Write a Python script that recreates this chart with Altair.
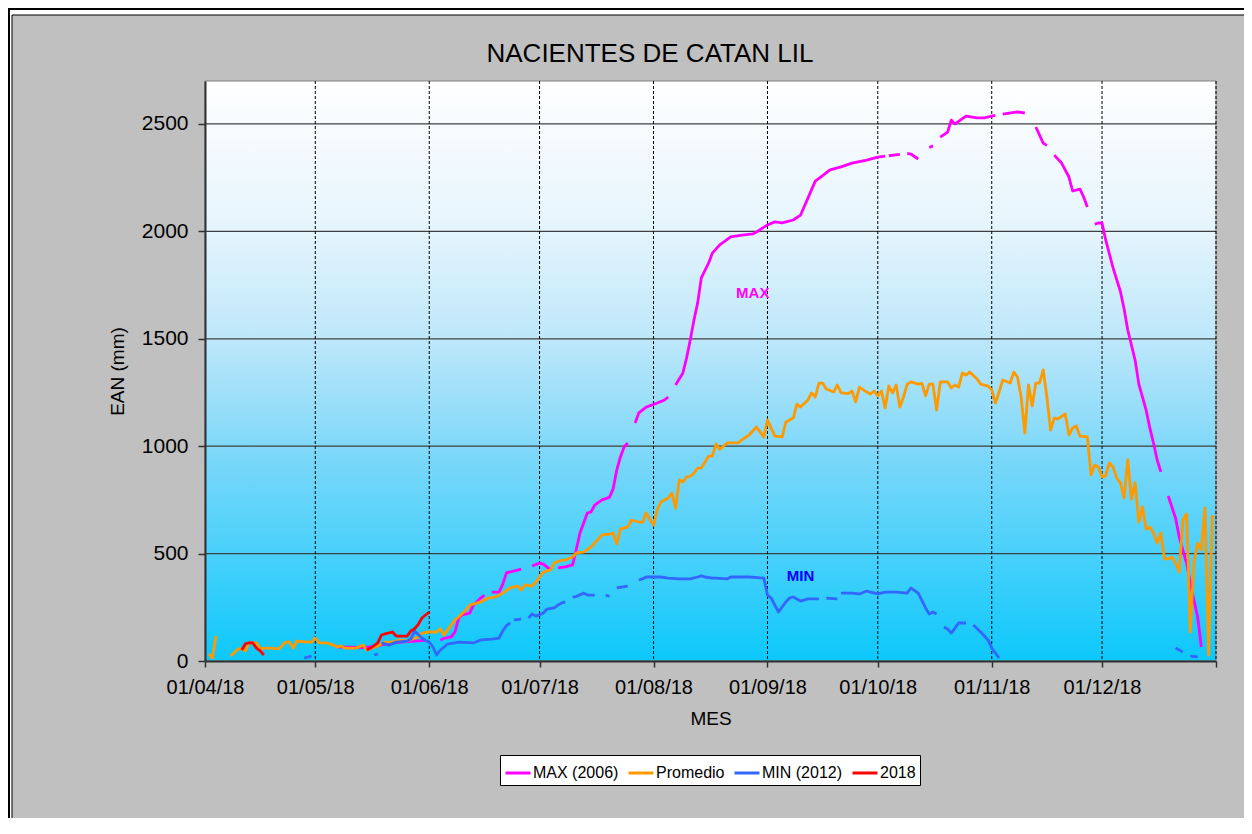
import altair as alt
import pandas as pd

FONT = "Liberation Sans"
BASE = pd.Timestamp("2018-04-01")
W, H = 1011, 580

chart_title = "NACIENTES DE CATAN LIL"
x_title = "MES"
y_title = "EAN (mm)"

series_names = ["MAX (2006)", "Promedio", "MIN (2012)", "2018"]
series_colors = ["#FF00FF", "#FF9900", "#3366FF", "#FF0000"]

month_ticks = ["2018-04-01", "2018-05-01", "2018-06-01", "2018-07-01", "2018-08-01",
               "2018-09-01", "2018-10-01", "2018-11-01", "2018-12-01", "2019-01-01"]
y_ticks = [0, 500, 1000, 1500, 2000, 2500]
y_top = 2700

# day offset from 01/04/18 and EAN (mm); None marks a gap in the series
max_days = [36, 40, 43, 46, 49, 52, 55, 58, 60, None,
            64, 65, 67, 68, 69, 70, 72, 73, 75, 76, None,
            78, 80, 81, 82, 84, 86, None,
            89, 91, 92, 94, None,
            96, 98, 100, 101, 102, 104, 105, 106, 108, 110, 111, 112, 113, 114, 115, None,
            117, 118, 120, 123, 125, 126, None,
            128, 130, 131, 132, 133, 134, 135, 137, 138, 140, 143, 146, 149, 150, 153, 155,
            157, 160, 162, 164, 166, 168, 170, 173, 176, 180, 183, 185, None,
            186, 189, None,
            191, 192, 194, None,
            197, 198, None,
            200, 202, 203, 204, 207, 210, 212, 214, 215, None,
            217, 221, 223, None,
            226, 228, 229, None,
            231, 233, 235, 236, 238, 239, 240, None,
            242, 243, 244, 245, 247, 249, 250, 251, 253, 254, 256, 257, 258, 259, 260, None,
            262, 264, 265, 267, 268, 270, 271]
max_vals = [65, 65, 62, 68, 78, 86, 90, 94, 96, None,
            98, 105, 112, 135, 200, 215, 223, 260, 293, 307, None,
            321, 321, 358, 410, 419, 428, None,
            442, 456, 451, 424, None,
            433, 438, 447, 520, 596, 689, 694, 726, 750, 762, 800, 889, 950, 996, 1015, None,
            1108, 1155, 1182, 1201, 1215, 1229, None,
            1285, 1341, 1411, 1494, 1587, 1666, 1783, 1853, 1899, 1937, 1974, 1983, 1988, 1997, 2030, 2044,
            2040, 2053, 2076, 2155, 2234, 2260, 2286, 2300, 2318, 2332, 2346, 2350, None,
            2352, 2358, None,
            2363, 2360, 2337, None,
            2390, 2398, None,
            2439, 2462, 2518, 2500, 2537, 2528, 2528, 2537, 2540, None,
            2546, 2556, 2551, None,
            2486, 2411, 2400, None,
            2355, 2318, 2253, 2188, 2197, 2160, 2113, None,
            2034, 2039, 2039, 1960, 1830, 1720, 1640, 1541, 1401, 1290, 1168, 1085, 1015, 936, 880, None,
            768, 666, 577, 456, 363, 205, 65]

prom_days = [1, 2, 3, None,
             7, 9, 10, 11, 12, 14, 15, 16, 18, 20, 22, 23, 24, 25, 28, 29, 30, 31, 33, 35, 36, 37, 38,
             41, 43, 44, 47, 49, 51, 53, 55, 58, 59, 61, 63, 64, 65, 67, 68, 69, 71, 72, 74, 75, 77,
             79, 81, 83, 85, 86, 87, 89, 90, 91, 92, 94, 95, 97, 98, 100, 101, 103, 105, 107, 108,
             110, 111, 112, 113, 115, 116, 118, 119, 120, 121, 122, 123, 124, 126, 127, 128, 129,
             130, 131, 132, 133, 134, 135, 137, 138, 139, 140, 142, 145, 146, 148, 150, 152, 153,
             155, 157, 158, 160, 161, 162, 164, 165, 166, 167, 168, 169, 171, 172, 173, 175, 176,
             177, 178, 180, 181, 182, 183, 184, 185, 186, 187, 188, 189, 190, 191, 192, 194, 195,
             196, 197, 198, 199, 200, 202, 203, 204, 205, 206, 207, 208, 210, 211, 213, 214, 215,
             216, 217, 219, 220, 221, 222, 223, 224, 225, 226, 227, 228, 229, 230, 231, 232, 234,
             235, 236, 237, 238, 240, 241, 242, 243, 244, 245, 246, 247, 248, 249, 250, 251, 252,
             253, 254, 255, 256, 257, 258, 259, 260, 261, 262, 263, 264, 265, 266, 267, 268, 269,
             270, 271, 272, 273, 274]
prom_vals = [33, 14, 116, None,
             23, 56, 56, 47, 84, 84, 56, 60, 60, 56, 88, 88, 60, 93, 88, 88, 107, 84, 84, 74, 65, 70, 60,
             60, 74, 51, 70, 88, 88, 98, 93, 112, 130, 135, 135, 150, 121, 168, 191, 205, 237, 260, 270, 275, 293,
             298, 316, 340, 349, 330, 354, 349, 368, 391, 414, 424, 456, 470, 470, 484, 503, 507, 531, 568, 587,
             590, 596, 545, 614, 624, 656, 647, 645, 689, 660, 633, 703, 740, 759, 782, 712, 843,
             833, 857, 860, 875, 898, 898, 954, 954, 1010, 985, 1015, 1015, 1029, 1052, 1089, 1043, 1122,
             1047, 1043, 1113, 1131, 1196, 1182, 1215, 1248, 1229, 1294, 1294, 1266, 1252, 1285, 1248, 1245, 1257,
             1206, 1275, 1252, 1243, 1257, 1234, 1257, 1178, 1280, 1248, 1285, 1182, 1229, 1289, 1299, 1289, 1292,
             1234, 1289, 1289, 1168, 1299, 1299, 1271, 1285, 1275, 1341, 1331, 1345, 1313, 1289, 1280, 1262, 1201,
             1252, 1308, 1294, 1345, 1322, 1229, 1061, 1285, 1187, 1294, 1294, 1355, 1229, 1075, 1131, 1127, 1150,
             1052, 1085, 1094, 1047, 1043, 866, 912, 903, 857, 862, 922, 903, 852, 829, 759, 936, 754,
             829, 647, 717, 614, 624, 596, 549, 596, 475, 475, 484, 456, 414, 656, 684, 135, 456,
             549, 517, 712, 28, 680]

min_days = [27, 29, None,
            46, 47, None,
            48, 50, 52, 55, 56, 57, 59, 60, 61, 62, 63, 64, 66, 69, 73, 75, 78, 80, 81, 82, 83, None,
            84, 86, None,
            88, 89, 90, 92, 93, 95, 96, 97, 98, None,
            100, 101, 103, 104, 106, None,
            109, 110, None,
            112, 115, None,
            118, 119, 120, 122, 124, 126, 129, 132, 134, 135, 136, 138, 139, 142, 143, 148, 152,
            153, 154, 156, 158, 159, 160, 162, 164, 167, None,
            169, 172, None,
            173, 176, 178, 180, 181, 183, 185, 188, 191, 192, 194, 196, 197, 198, 199, None,
            201, 202, 203, 205, 207, None,
            209, 211, 213, 214, 216, None,
            264, 266, None,
            268, 270]
min_vals = [14, 23, None,
            28, 33, None,
            84, 74, 88, 93, 102, 140, 107, 95, 88, 65, 28, 50, 79, 88, 84, 98, 102, 107, 140, 165, 177, None,
            191, 195, None,
            200, 219, 209, 223, 242, 247, 260, 270, 275, None,
            298, 300, 316, 307, 307, None,
            307, 300, None,
            340, 349, None,
            377, 382, 391, 391, 391, 386, 382, 382, 391, 396, 391, 386, 386, 382, 391, 391, 386,
            307, 293, 228, 275, 293, 298, 279, 289, 289, None,
            293, 289, None,
            316, 316, 312, 326, 321, 312, 321, 321, 316, 340, 316, 247, 219, 228, 219, None,
            158, 149, 130, 177, 177, None,
            168, 135, 98, 60, 14, None,
            60, 42, None,
            23, 19]

y2018_days = [10, 11, 12, 13, 14, 15, 16, None,
              44, 45, 47, 48, 49, 51, 52, 55, 56, 57, 58, 59, 61]
y2018_vals = [51, 80, 85, 84, 60, 47, 28, None,
              51, 60, 84, 121, 126, 135, 116, 116, 140, 150, 170, 200, 228]

label_texts = ["MAX", "MIN"]
label_dates = ["2018-08-28", "2018-09-10"]
label_vals = [1713, 396]
label_colors = ["#FF00FF", "#0000FF"]


def iso(d):
    return (BASE + pd.Timedelta(days=d)).strftime("%Y-%m-%dT00:00:00")


def seg_rows(name, days, vals):
    rows, seg = [], 0
    for d, v in zip(days, vals):
        if v is None:
            seg += 1
            continue
        rows.append({"date": iso(d), "ean": v, "serie": name, "seg": f"{name}#{seg}"})
    return rows


rows = []
for nm, dd, vv in zip(series_names,
                      [max_days, prom_days, min_days, y2018_days],
                      [max_vals, prom_vals, min_vals, y2018_vals]):
    rows += seg_rows(nm, dd, vv)
df = pd.DataFrame(rows)

one = pd.DataFrame({"k": [0]})
vgrid_df = pd.DataFrame({"date": [m + "T00:00:00" for m in month_ticks[1:]]})
hgrid_df = pd.DataFrame({"ean": y_ticks[1:]})
lab_df = pd.DataFrame({"date": [d + "T00:00:00" for d in label_dates], "ean": label_vals,
                       "txt": label_texts, "col": label_colors})

x_dom = [alt.DateTime(year=2018, month=4, date=1), alt.DateTime(year=2019, month=1, date=1)]
x_vals = [alt.DateTime(year=int(m[:4]), month=int(m[5:7]), date=1) for m in month_ticks]

X = alt.X("date:T", scale=alt.Scale(domain=x_dom, nice=False),
          axis=alt.Axis(title=x_title, values=x_vals, grid=False,
                        labelExpr="datum.value >= datetime(2019,0,1) ? '' : timeFormat(datum.value, '%d/%m/%y')",
                        labelOverlap=False, labelFlush=False, labelPadding=10, labelFontSize=20,
                        tickSize=6, titlePadding=12, zindex=1))
Y = alt.Y("ean:Q", scale=alt.Scale(domain=[0, y_top], nice=False),
          axis=alt.Axis(title=y_title, values=y_ticks, format="d", grid=False, labelPadding=10,
                        labelFontSize=21, tickSize=7, titlePadding=14, zindex=1))

frame_outer = alt.Chart(one).mark_rect(fill="transparent", stroke="black", strokeWidth=2).encode(
    x=alt.value(-196), y=alt.value(-72), x2=alt.value(W + 300), y2=alt.value(H + 300))
frame_gray = alt.Chart(one).mark_rect(fill="#C0C0C0", stroke="black", strokeWidth=1).encode(
    x=alt.value(-193), y=alt.value(-66), x2=alt.value(W + 300), y2=alt.value(H + 300))

grad = alt.Gradient(gradient="linear", x1=0, x2=0, y1=0, y2=1, stops=[
    alt.GradientStop(offset=0, color="#FFFFFF"),
    alt.GradientStop(offset=0.25, color="#E6F5FD"),
    alt.GradientStop(offset=0.45, color="#BCE7FA"),
    alt.GradientStop(offset=0.65, color="#7AD7F9"),
    alt.GradientStop(offset=0.85, color="#3ECFFB"),
    alt.GradientStop(offset=1, color="#0CC8FA"),
])
bg = alt.Chart(one).mark_rect(fill=grad, stroke="#808080", strokeWidth=1).encode(
    x=alt.value(0), y=alt.value(0), x2=alt.value(W), y2=alt.value(H))

hgrid = alt.Chart(hgrid_df).mark_rule(color="#404040", strokeWidth=1.2).encode(y=Y)
vgrid = alt.Chart(vgrid_df).mark_rule(color="black", strokeWidth=1, strokeDash=[3, 2]).encode(x=X)

lines = alt.Chart(df).mark_line(strokeWidth=2.8, strokeJoin="round").encode(
    x=X, y=Y,
    color=alt.Color("serie:N", scale=alt.Scale(domain=series_names, range=series_colors),
                    legend=alt.Legend(title=None, orient="none", legendX=295, legendY=674,
                                      direction="horizontal", columns=4, fillColor="white",
                                      strokeColor="black", padding=4, symbolType="stroke",
                                      symbolSize=625, symbolStrokeWidth=3, labelFontSize=16,
                                      labelFont=FONT, labelColor="black", columnPadding=3,
                                      labelOffset=1)),
    detail="seg:N",
)

labels = alt.Chart(lab_df).mark_text(font=FONT, fontSize=15, fontWeight="bold").encode(
    x=X, y=Y, text="txt:N", color=alt.Color("col:N", scale=None))

title = alt.Chart(one).mark_text(font=FONT, fontSize=26, color="black", align="center",
                                 baseline="alphabetic").encode(
    x=alt.value(445), y=alt.value(-19), text=alt.value(chart_title))

chart = alt.layer(frame_outer, frame_gray, bg, hgrid, vgrid, lines, labels, title).properties(
    width=W, height=H,
    padding={"left": 197, "top": 73, "right": 28, "bottom": 157},
    autosize=alt.AutoSizeParams(type="none"),
    background="white",
).configure_view(stroke=None).configure_axis(
    labelFont=FONT, labelColor="black",
    titleFont=FONT, titleFontSize=19, titleFontWeight="normal", titleColor="black",
    domainColor="#303030", domainWidth=2, tickColor="#303030", tickWidth=1.5,
)

chart.save("out.html", embed_options={"renderer": "svg", "actions": False})
